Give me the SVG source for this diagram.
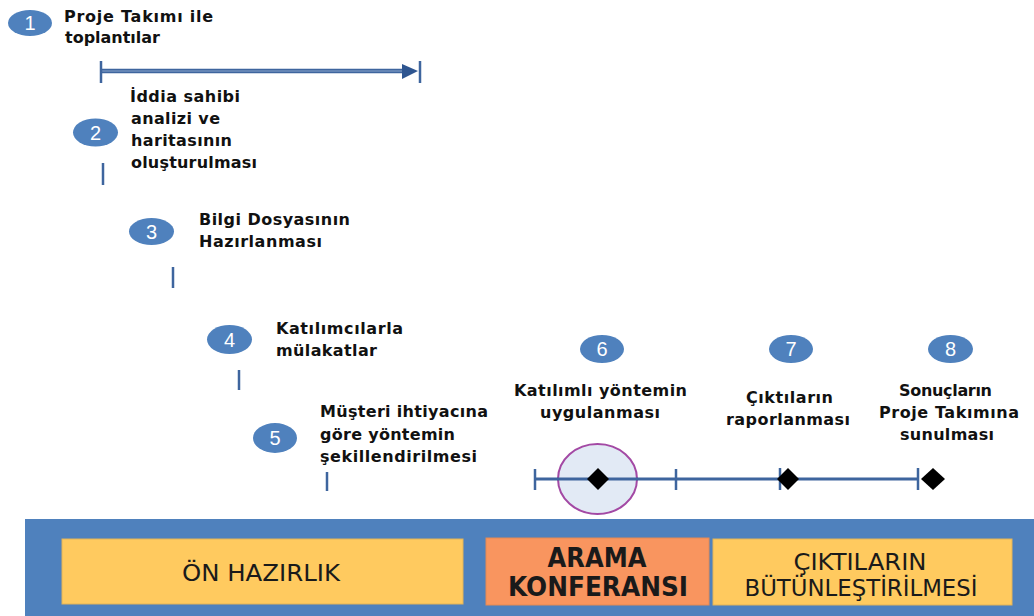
<svg xmlns="http://www.w3.org/2000/svg" width="1034" height="616" viewBox="0 0 1034 616">
<style>
.num{fill:#4F81BD}
.nt{font-family:"Liberation Sans",Arial,sans-serif;font-size:20px;fill:#fff;text-anchor:middle}
.lb{font-family:"DejaVu Sans","Liberation Sans",sans-serif;font-weight:bold;font-size:16px;fill:#111}
.tick{stroke:#3E659E;stroke-width:2.5;fill:none}
.tl{stroke:#3E659E;stroke-width:3;fill:none}
.dia{fill:#000}
.ph{font-family:"DejaVu Sans","Liberation Sans",sans-serif;font-size:23px;fill:#1a1a1a;text-anchor:middle}
.phb{font-family:"DejaVu Sans","Liberation Sans",sans-serif;font-size:26px;font-weight:bold;fill:#1a1a1a;text-anchor:middle}
</style>
<rect width="1034" height="616" fill="#fff"/>
<g id="connectors">
<line x1="101" y1="71" x2="408" y2="71" stroke="#3E659E" stroke-width="4.5"/>
<line x1="102" y1="71" x2="406" y2="71" stroke="#8AA5CC" stroke-width="1.2"/>
<polygon points="402,64 418,71 402,79" fill="#2E5590"/>
<line class="tick" x1="101" y1="61" x2="101" y2="83"/>
<line class="tick" x1="420" y1="61" x2="420" y2="83"/>
<line class="tick" x1="103" y1="163" x2="103" y2="185"/>
<line class="tick" x1="173" y1="267" x2="173" y2="288"/>
<line class="tick" x1="239" y1="370" x2="239" y2="390"/>
<line class="tick" x1="327" y1="472" x2="327" y2="491"/>
<line class="tl" x1="535" y1="479" x2="918" y2="479"/>
</g>
<g id="milestone-highlight">
<ellipse cx="597.5" cy="479" rx="39.5" ry="35" fill="#E2EAF5" stroke="#A349A4" stroke-width="2"/>
<line class="tl" x1="557" y1="479" x2="638" y2="479"/>
</g>
<g id="timeline-ticks">
<line class="tick" x1="535" y1="469" x2="535" y2="490"/>
<line class="tick" x1="676" y1="469" x2="676" y2="490"/>
<line class="tick" x1="780" y1="468" x2="780" y2="490"/>
<line class="tick" x1="918" y1="468" x2="918" y2="490"/>
</g>
<g id="diamonds">
<polygon class="dia" points="598,468 609,479 598,490 587,479"/>
<polygon class="dia" points="788,468 799,479 788,490 777,479"/>
<polygon class="dia" points="933,468 945,479 933,490 921,479"/>
</g>
<g id="step1">
<ellipse class="num" cx="30" cy="23" rx="22" ry="13"/>
<text class="nt" x="30" y="30">1</text>
<text class="lb" x="64" y="22" textLength="149" lengthAdjust="spacing">Proje Takımı ile</text>
<text class="lb" x="65" y="43" textLength="95" lengthAdjust="spacing">toplantılar</text>
</g>
<g id="step2">
<ellipse class="num" cx="95.5" cy="132.5" rx="22.5" ry="14"/>
<text class="nt" x="95.5" y="139.5">2</text>
<text class="lb" x="130" y="102" textLength="110" lengthAdjust="spacing">İddia sahibi</text>
<text class="lb" x="131" y="124" textLength="89" lengthAdjust="spacing">analizi ve</text>
<text class="lb" x="131" y="146" textLength="101" lengthAdjust="spacing">haritasının</text>
<text class="lb" x="131" y="168" textLength="126" lengthAdjust="spacing">oluşturulması</text>
</g>
<g id="step3">
<ellipse class="num" cx="151.5" cy="231.5" rx="22.5" ry="13.5"/>
<text class="nt" x="151.5" y="238.5">3</text>
<text class="lb" x="199" y="225" textLength="151" lengthAdjust="spacing">Bilgi Dosyasının</text>
<text class="lb" x="199" y="247" textLength="123" lengthAdjust="spacing">Hazırlanması</text>
</g>
<g id="step4">
<ellipse class="num" cx="229.5" cy="339.5" rx="22.5" ry="14.5"/>
<text class="nt" x="229.5" y="346.5">4</text>
<text class="lb" x="276" y="334" textLength="127" lengthAdjust="spacing">Katılımcılarla</text>
<text class="lb" x="276" y="356" textLength="101" lengthAdjust="spacing">mülakatlar</text>
</g>
<g id="step5">
<ellipse class="num" cx="275" cy="438" rx="22" ry="15"/>
<text class="nt" x="275" y="445">5</text>
<text class="lb" x="320" y="417" textLength="168" lengthAdjust="spacing">Müşteri ihtiyacına</text>
<text class="lb" x="320" y="440" textLength="135" lengthAdjust="spacing">göre yöntemin</text>
<text class="lb" x="320" y="462" textLength="157" lengthAdjust="spacing">şekillendirilmesi</text>
</g>
<g id="step6">
<ellipse class="num" cx="602" cy="349" rx="22" ry="14"/>
<text class="nt" x="602" y="356">6</text>
<text class="lb" x="514" y="396" textLength="173" lengthAdjust="spacing">Katılımlı yöntemin</text>
<text class="lb" x="540" y="418" textLength="120" lengthAdjust="spacing">uygulanması</text>
</g>
<g id="step7">
<ellipse class="num" cx="791" cy="349" rx="22" ry="14"/>
<text class="nt" x="791" y="356">7</text>
<text class="lb" x="746" y="403" textLength="87" lengthAdjust="spacing">Çıktıların</text>
<text class="lb" x="726" y="425" textLength="124" lengthAdjust="spacing">raporlanması</text>
</g>
<g id="step8">
<ellipse class="num" cx="950.5" cy="349" rx="22.5" ry="14"/>
<text class="nt" x="950.5" y="356">8</text>
<text class="lb" x="899" y="396" textLength="93" lengthAdjust="spacing">Sonuçların</text>
<text class="lb" x="879" y="418" textLength="140" lengthAdjust="spacing">Proje Takımına</text>
<text class="lb" x="900" y="440" textLength="94" lengthAdjust="spacing">sunulması</text>
</g>
<g id="phases">
<rect x="25" y="519" width="1009" height="97" fill="#4F81BD"/>
<g id="phase-on-hazirlik">
<rect x="62" y="539" width="401" height="65" fill="#FFCA5F" stroke="#E2B45A" stroke-width="1"/>
<text class="ph" x="261" y="581" textLength="158" lengthAdjust="spacingAndGlyphs">ÖN HAZIRLIK</text>
</g>
<g id="phase-arama">
<rect x="486" y="538" width="223" height="67" fill="#F9955F" stroke="#E58A55" stroke-width="1"/>
<text class="phb" x="597" y="567" textLength="99" lengthAdjust="spacingAndGlyphs">ARAMA</text>
<text class="phb" x="598" y="596" textLength="180" lengthAdjust="spacingAndGlyphs">KONFERANSI</text>
</g>
<g id="phase-ciktilar">
<rect x="713" y="539" width="299" height="66" fill="#FFCA5F" stroke="#E2B45A" stroke-width="1"/>
<text class="ph" x="860" y="570" textLength="133" lengthAdjust="spacingAndGlyphs">ÇIKTILARIN</text>
<text class="ph" x="861" y="596" textLength="233" lengthAdjust="spacingAndGlyphs">BÜTÜNLEŞTİRİLMESİ</text>
</g>
</g>
</svg>
